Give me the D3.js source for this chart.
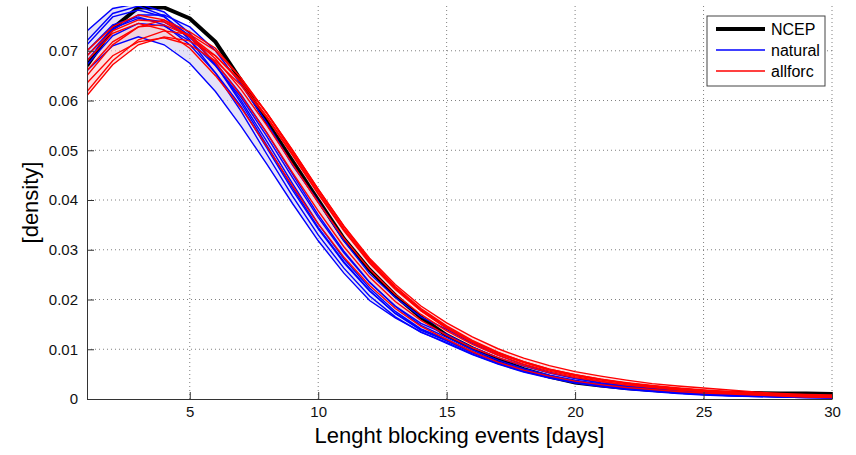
<!DOCTYPE html>
<html>
<head>
<meta charset="utf-8">
<script src="https://cdn.jsdelivr.net/npm/d3@7"></script>
<style>
    body { margin: 0; background: #fff; }
    svg { display: block; font-family: "Liberation Sans", Arial, sans-serif; }
    .grid line { stroke: #808080; stroke-width: 1; stroke-dasharray: 1,3; }
    .axis path, .axis line { stroke: #333; }
    .axis text { font-size: 15px; fill: #111; }
</style>
</head>
<body>
<svg id="chart" width="856" height="455"></svg>
<script>
// Event length (days)
const days = d3.range(1, 31);

// Observed density
const ncep = [.0670,.0745,.0787,.0787,.0765,.0718,.0640,.0557,.0478,.0400,.0322,.0260,.0208,.0164,.0128,
              .0102,.0079,.0060,.0045,.0033,.0027,.0022,.0018,.0015,.0013,.0012,.0012,.0011,.0011,.0010];

// Natural forcing ensemble members
const naturalRuns = [
    [.0720,.0775,.0790,.0770,.0722,.0655,.0578,.0492,.0408,.0330,.0263,.0207,.0165,.0134,.0114,
     .0090,.0071,.0055,.0043,.0033,.0026,.0020,.0016,.0012,.0009,.0007,.0005,.0004,.0003,.0003],
    [.0712,.0768,.0782,.0768,.0730,.0672,.0600,.0518,.0433,.0352,.0282,.0223,.0176,.0141,.0120,
     .0095,.0075,.0059,.0046,.0036,.0028,.0022,.0017,.0013,.0011,.0008,.0007,.0005,.0004,.0003],
    [.0660,.0710,.0728,.0712,.0675,.0618,.0548,.0472,.0393,.0318,.0253,.0198,.0163,.0135,.0112,
     .0089,.0070,.0054,.0042,.0032,.0025,.0019,.0015,.0011,.0008,.0006,.0005,.0004,.0003,.0002],
    [.0740,.0785,.0795,.0778,.0735,.0672,.0595,.0510,.0425,.0345,.0276,.0218,.0172,.0138,.0117,
     .0093,.0073,.0057,.0045,.0035,.0027,.0021,.0017,.0013,.0010,.0008,.0006,.0005,.0004,.0003],
    [.0690,.0745,.0765,.0758,.0727,.0676,.0612,.0535,.0452,.0370,.0297,.0235,.0186,.0148,.0124,
     .0099,.0078,.0061,.0048,.0038,.0030,.0023,.0018,.0014,.0011,.0009,.0007,.0005,.0004,.0003],
    [.0680,.0742,.0772,.0772,.0748,.0700,.0632,.0555,.0470,.0397,.0318,.0252,.0204,.0165,.0140,
     .0112,.0088,.0069,.0054,.0042,.0033,.0026,.0021,.0017,.0014,.0011,.0009,.0007,.0006,.0005],
    [.0700,.0752,.0768,.0752,.0712,.0656,.0588,.0505,.0420,.0342,.0274,.0217,.0172,.0140,.0118,
     .0094,.0074,.0058,.0045,.0035,.0027,.0021,.0016,.0012,.0009,.0007,.0006,.0004,.0003,.0002],
    [.0672,.0730,.0755,.0750,.0720,.0670,.0606,.0528,.0445,.0365,.0294,.0234,.0187,.0152,.0130,
     .0104,.0083,.0066,.0052,.0041,.0032,.0026,.0020,.0016,.0013,.0010,.0008,.0006,.0005,.0004]
];

// All forcings ensemble members
const allforcRuns = [
    [.0650,.0712,.0748,.0762,.0738,.0705,.0645,.0575,.0500,.0422,.0348,.0283,.0230,.0187,.0153,
     .0125,.0101,.0082,.0067,.0055,.0046,.0038,.0031,.0026,.0022,.0018,.0014,.0011,.0009,.0008],
    [.0618,.0680,.0722,.0740,.0733,.0700,.0645,.0574,.0496,.0418,.0343,.0278,.0224,.0180,.0145,
     .0116,.0093,.0075,.0060,.0049,.0040,.0033,.0027,.0022,.0018,.0015,.0012,.0009,.0007,.0006],
    [.0700,.0748,.0772,.0762,.0728,.0676,.0610,.0535,.0455,.0378,.0306,.0245,.0196,.0158,.0128,
     .0103,.0083,.0067,.0053,.0043,.0035,.0028,.0023,.0018,.0015,.0012,.0009,.0007,.0005,.0004],
    [.0635,.0690,.0718,.0726,.0712,.0680,.0630,.0565,.0490,.0412,.0338,.0273,.0220,.0177,.0142,
     .0114,.0091,.0073,.0058,.0047,.0038,.0031,.0025,.0020,.0016,.0013,.0010,.0008,.0006,.0005],
    [.0680,.0735,.0755,.0742,.0705,.0650,.0585,.0508,.0428,.0352,.0285,.0228,.0182,.0146,.0120,
     .0095,.0074,.0058,.0046,.0036,.0029,.0023,.0019,.0015,.0012,.0010,.0008,.0006,.0004,.0003],
    [.0660,.0718,.0748,.0752,.0730,.0690,.0636,.0568,.0492,.0414,.0340,.0275,.0222,.0178,.0143,
     .0115,.0092,.0074,.0059,.0048,.0039,.0032,.0026,.0021,.0017,.0013,.0010,.0008,.0006,.0005],
    [.0690,.0740,.0762,.0758,.0730,.0684,.0622,.0550,.0472,.0395,.0323,.0261,.0210,.0170,.0137,
     .0110,.0088,.0070,.0056,.0045,.0036,.0029,.0024,.0019,.0015,.0012,.0010,.0008,.0006,.0005],
    [.0610,.0672,.0712,.0728,.0720,.0690,.0640,.0575,.0500,.0422,.0347,.0280,.0226,.0182,.0147,
     .0118,.0094,.0075,.0060,.0049,.0040,.0032,.0026,.0021,.0017,.0014,.0011,.0009,.0007,.0006]
];

const xTicks = [5, 10, 15, 20, 25, 30];
const yTicks = [0, 0.01, 0.02, 0.03, 0.04, 0.05, 0.06, 0.07];

const legendItems = [
    { label: 'NCEP', color: '#000', width: 4 },
    { label: 'natural', color: '#0000ff', width: 1.3 },
    { label: 'allforc', color: '#ff0000', width: 1.3 }
];

// Setup
const margin = { top: 6, right: 24, bottom: 56, left: 87 };
const svg = d3.select('#chart');
const width = +svg.attr('width') - margin.left - margin.right;
const height = +svg.attr('height') - margin.top - margin.bottom;

const x = d3.scaleLinear().domain([1, 30]).range([0, width]);
const y = d3.scaleLinear().domain([0, 0.079]).range([height, 0]);

const g = svg.append('g').attr('transform', `translate(${margin.left},${margin.top})`);

svg.append('defs').append('clipPath').attr('id', 'clip')
    .append('rect').attr('width', width).attr('height', height);

// Dotted grid
g.append('g').attr('class', 'grid')
    .selectAll('line').data(xTicks).join('line')
    .attr('x1', d => x(d)).attr('x2', d => x(d))
    .attr('y1', 0).attr('y2', height);

g.append('g').attr('class', 'grid')
    .selectAll('line').data(yTicks.filter(d => d > 0)).join('line')
    .attr('x1', 0).attr('x2', width)
    .attr('y1', d => y(d)).attr('y2', d => y(d));

const plot = g.append('g').attr('clip-path', 'url(#clip)');

// Ensemble envelopes (min to max of the members)
function envelope(runs) {
    return days.map((d, i) => {
        const vals = runs.map(r => r[i]);
        return { day: d, lo: d3.min(vals), hi: d3.max(vals) };
    });
}

const area = d3.area()
    .x(d => x(d.day))
    .y0(d => y(d.lo))
    .y1(d => y(d.hi));

plot.append('path').datum(envelope(naturalRuns))
    .attr('d', area).attr('fill', '#cfcaf0').attr('fill-opacity', 0.55);

plot.append('path').datum(envelope(allforcRuns))
    .attr('d', area).attr('fill', '#f9c6cb').attr('fill-opacity', 0.55);

const line = d3.line()
    .x((d, i) => x(days[i]))
    .y(d => y(d));

// NCEP first, then the two ensembles on top
plot.append('path').datum(ncep)
    .attr('d', line).attr('fill', 'none')
    .attr('stroke', '#000').attr('stroke-width', 4);

plot.append('g').selectAll('path').data(naturalRuns).join('path')
    .attr('d', line).attr('fill', 'none')
    .attr('stroke', '#0000ff').attr('stroke-width', 1.4);

plot.append('g').selectAll('path').data(allforcRuns).join('path')
    .attr('d', line).attr('fill', 'none')
    .attr('stroke', '#ff0000').attr('stroke-width', 1.4);

// Axes (ticks pointing inward, no box)
g.append('g').attr('class', 'axis')
    .attr('transform', `translate(0,${height})`)
    .call(d3.axisBottom(x).tickValues(xTicks).tickSizeInner(-7).tickSizeOuter(0).tickPadding(7));

g.append('g').attr('class', 'axis')
    .call(d3.axisLeft(y).tickValues(yTicks).tickSizeInner(-7).tickSizeOuter(0).tickPadding(9)
        .tickFormat(d => d === 0 ? '0' : d3.format('.2f')(d)));

// Axis labels
svg.append('text')
    .attr('x', margin.left + width / 2)
    .attr('y', 443)
    .attr('text-anchor', 'middle')
    .style('font-size', '22px')
    .text('Lenght blocking events [days]');

svg.append('text')
    .attr('transform', `translate(38,${margin.top + height / 2}) rotate(-90)`)
    .attr('text-anchor', 'middle')
    .style('font-size', '22px')
    .text('[density]');

// Legend
const legend = svg.append('g').attr('transform', 'translate(707,16)');

legend.append('rect')
    .attr('width', 118).attr('height', 70)
    .attr('fill', '#fff').attr('stroke', '#444').attr('stroke-width', 1);

const entry = legend.selectAll('g.entry').data(legendItems).join('g')
    .attr('class', 'entry')
    .attr('transform', (d, i) => `translate(0,${13 + i * 21})`);

entry.append('line')
    .attr('x1', 9).attr('x2', 58)
    .attr('stroke', d => d.color).attr('stroke-width', d => d.width);

entry.append('text')
    .attr('x', 64).attr('dy', '0.35em')
    .style('font-size', '16px')
    .text(d => d.label);
</script>
</body>
</html>
